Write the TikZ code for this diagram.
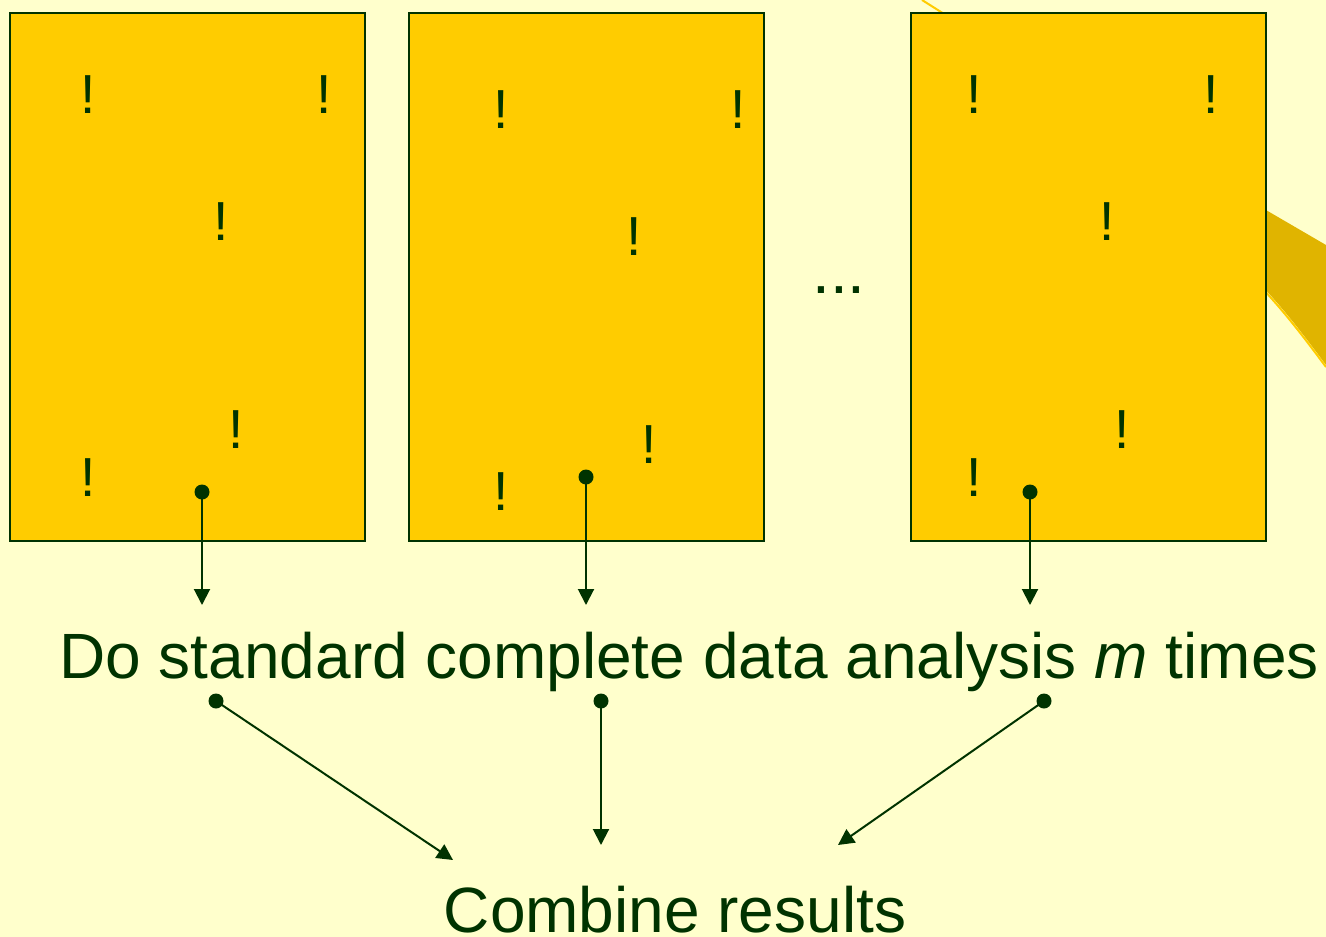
\documentclass[tikz,border=0pt]{standalone}
\usepackage{fontspec}
\setmainfont{Liberation Sans}
\usetikzlibrary{arrows.meta,positioning,calc}
\definecolor{paleyellow}{RGB}{255,255,204}
\definecolor{softgold}{RGB}{255,204,0}
\definecolor{darkgold}{RGB}{224,180,0}
\definecolor{deepgreen}{RGB}{0,51,0}

\begin{document}
\begin{tikzpicture}[
  x=1pt,y=-1pt,
  impbox/.style={draw=deepgreen,line width=2pt,fill=softgold,
                 minimum width=355pt,minimum height=528pt,inner sep=0pt},
  bang/.style={text=deepgreen,font=\fontsize{55}{60}\selectfont,inner sep=0pt},
  bigtext/.style={text=deepgreen,font=\fontsize{64}{70}\selectfont,inner sep=0pt,anchor=base},
  arr/.style={draw=deepgreen,line width=2pt,-{Triangle[width=16pt,length=16pt]}},
  >=Latex]
\useasboundingbox[fill=paleyellow] (0,0) rectangle (1326,937);
% band behind the third box
\fill[darkgold] (1180,160) -- (1326,245) -- (1326,365)
  .. controls (1300,330) and (1270,290) .. (1230,255) -- cycle;
\draw[softgold,line width=2pt] (1326,367) .. controls (1300,332) and (1270,292) .. (1230,257);
\draw[softgold,line width=2pt] (922,0) -- (960,24);
% imputed data sets
\node[impbox] (imp1) at (187.5,277) {};
\node[impbox] (imp2) at (586.5,277) {};
\node[impbox] (imp3) at (1088.5,277) {};
\foreach \x/\y in {88/95,324/95,221/222,236/430,88/478,
                   501/110,738/110,634/237,649/445,501/492,
                   974/95,1211/95,1107/222,1122/430,974/478}
  \node[bang] at (\x,\y) {!};
\node[bigtext] (gap) at (839,293) {...};
% analysis
\node[bigtext] (analysis) at (689,678) {Do standard complete data analysis \textit{m} times};
\node[bigtext] (combine) at (675,932) {Combine results};
\coordinate (d1) at (202,492);
\coordinate (d2) at (586,477);
\coordinate (d3) at (1030,492);
\coordinate (t1) at (202,605);
\coordinate (t2) at (586,605);
\coordinate (t3) at (1030,605);
\coordinate (e1) at (216,701);
\coordinate (e2) at (601,701);
\coordinate (e3) at (1044,701);
\coordinate (c1) at (453,860);
\coordinate (c2) at (601,845);
\coordinate (c3) at (838,845);
\foreach \i in {1,2,3} {
  \fill[deepgreen] (d\i) circle (7.5pt);
  \draw[arr] (d\i) -- (t\i);
  \fill[deepgreen] (e\i) circle (7.5pt);
  \draw[arr] (e\i) -- (c\i);
}
\end{tikzpicture}
\end{document}
